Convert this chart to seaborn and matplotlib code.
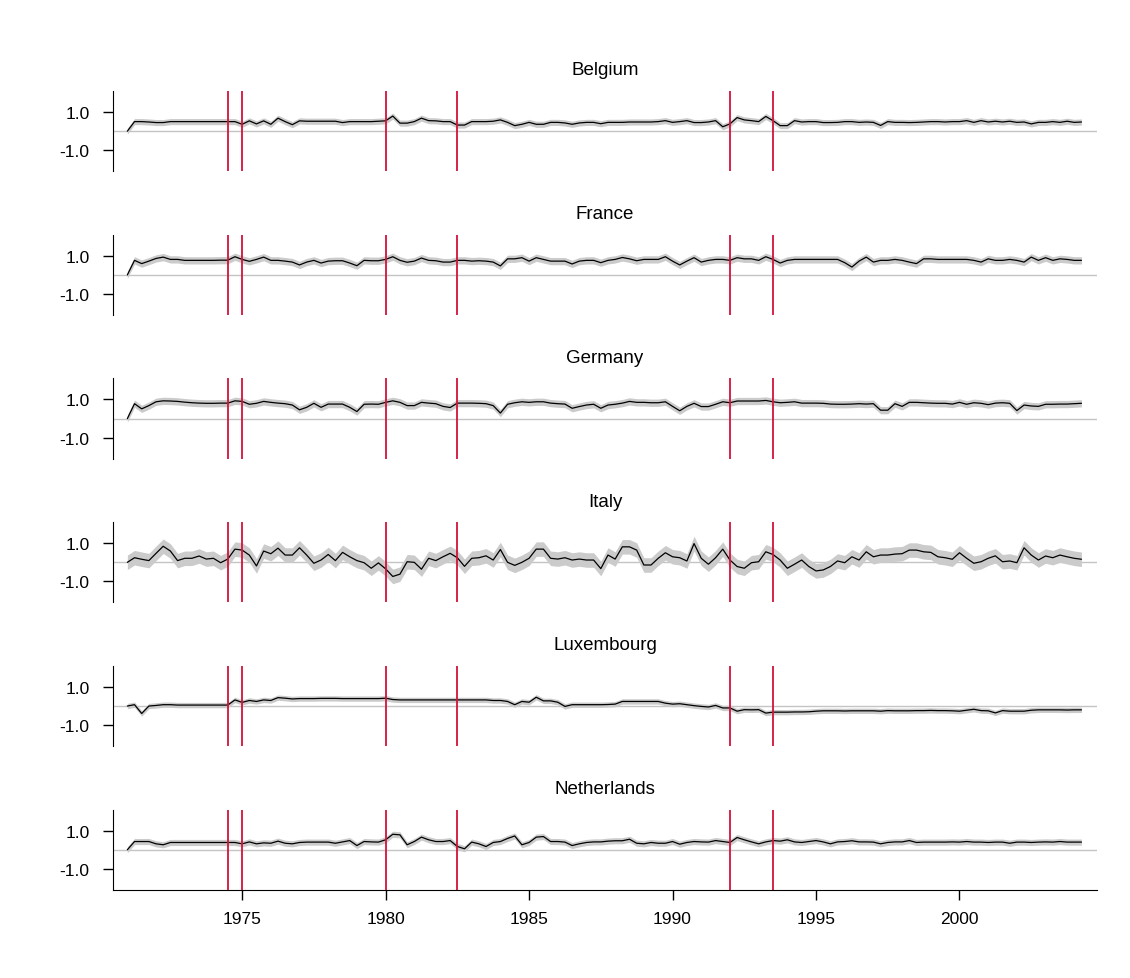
import numpy as np
import pandas as pd
import matplotlib
matplotlib.use("Agg")
import matplotlib.pyplot as plt
import seaborn as sns

# -------------------------
# DATA (quarterly, 1971Q1 - 2004Q2)
# -------------------------

countries = ["Belgium", "France", "Germany", "Italy", "Luxembourg", "Netherlands"]
start_year = 1971.0
breaks = [1974.5, 1975.0, 1980.0, 1982.5, 1992.0, 1993.5]

belgium = [
    0.0, 0.5, 0.5, 0.48, 0.45, 0.45, 0.5, 0.5, 0.5, 0.5, 0.5, 0.5, 0.5, 0.5, 0.5, 0.5,
    0.36, 0.54, 0.38, 0.54, 0.36, 0.68, 0.5, 0.34, 0.54, 0.52, 0.52, 0.52, 0.52, 0.52,
    0.45, 0.5, 0.5, 0.5, 0.5, 0.52, 0.54, 0.79, 0.42, 0.42, 0.5, 0.68, 0.55, 0.54, 0.5,
    0.5, 0.32, 0.32, 0.5, 0.5, 0.5, 0.52, 0.59, 0.46, 0.29, 0.36, 0.46, 0.36, 0.36, 0.46,
    0.46, 0.43, 0.36, 0.43, 0.46, 0.46, 0.39, 0.46, 0.46, 0.46, 0.48, 0.48, 0.48, 0.48,
    0.5, 0.55, 0.46, 0.5, 0.55, 0.45, 0.45, 0.48, 0.55, 0.23, 0.38, 0.71, 0.59, 0.55,
    0.5, 0.77, 0.55, 0.29, 0.29, 0.55, 0.48, 0.5, 0.5, 0.45, 0.45, 0.46, 0.5, 0.5, 0.46,
    0.48, 0.46, 0.3, 0.5, 0.46, 0.46, 0.45, 0.46, 0.48, 0.5, 0.5, 0.48, 0.5, 0.5, 0.55,
    0.46, 0.55, 0.48, 0.52, 0.48, 0.52, 0.46, 0.48, 0.38, 0.46, 0.46, 0.5, 0.46, 0.52,
    0.46, 0.48,
]
france = [
    0.0, 0.76, 0.59, 0.72, 0.86, 0.93, 0.81, 0.81, 0.76, 0.76, 0.76, 0.76, 0.76, 0.77,
    0.77, 0.95, 0.81, 0.71, 0.81, 0.93, 0.76, 0.76, 0.72, 0.67, 0.52, 0.67, 0.76, 0.62,
    0.72, 0.74, 0.74, 0.62, 0.48, 0.76, 0.74, 0.74, 0.81, 0.95, 0.76, 0.66, 0.72, 0.88,
    0.76, 0.74, 0.67, 0.67, 0.76, 0.76, 0.72, 0.74, 0.72, 0.67, 0.47, 0.84, 0.84, 0.9,
    0.72, 0.9, 0.81, 0.72, 0.72, 0.72, 0.57, 0.72, 0.76, 0.76, 0.64, 0.76, 0.81, 0.91,
    0.84, 0.74, 0.81, 0.81, 0.81, 0.95, 0.72, 0.52, 0.72, 0.9, 0.67, 0.76, 0.81, 0.81,
    0.76, 0.9, 0.84, 0.84, 0.76, 0.95, 0.81, 0.62, 0.76, 0.81, 0.81, 0.81, 0.81, 0.81,
    0.81, 0.81, 0.64, 0.41, 0.72, 0.93, 0.67, 0.76, 0.76, 0.81, 0.76, 0.67, 0.59, 0.84,
    0.84, 0.81, 0.81, 0.81, 0.81, 0.81, 0.76, 0.67, 0.84, 0.76, 0.76, 0.81, 0.76, 0.67,
    0.93, 0.76, 0.9, 0.76, 0.84, 0.81, 0.76, 0.76,
]
germany = [
    0.0, 0.78, 0.51, 0.68, 0.88, 0.93, 0.92, 0.9, 0.86, 0.83, 0.81, 0.8, 0.8, 0.81, 0.81,
    0.93, 0.9, 0.75, 0.8, 0.9, 0.85, 0.81, 0.78, 0.71, 0.46, 0.59, 0.8, 0.59, 0.76, 0.76,
    0.76, 0.59, 0.37, 0.75, 0.76, 0.75, 0.85, 0.93, 0.85, 0.68, 0.68, 0.85, 0.81, 0.78,
    0.64, 0.58, 0.81, 0.81, 0.81, 0.8, 0.78, 0.68, 0.29, 0.75, 0.83, 0.88, 0.85, 0.88,
    0.88, 0.81, 0.78, 0.76, 0.54, 0.63, 0.71, 0.75, 0.54, 0.71, 0.75, 0.81, 0.9, 0.85,
    0.85, 0.83, 0.83, 0.88, 0.64, 0.41, 0.64, 0.8, 0.63, 0.63, 0.75, 0.88, 0.83, 0.92,
    0.92, 0.92, 0.92, 0.95, 0.88, 0.83, 0.85, 0.88, 0.81, 0.81, 0.81, 0.8, 0.76, 0.75,
    0.75, 0.76, 0.78, 0.76, 0.78, 0.44, 0.44, 0.78, 0.64, 0.85, 0.85, 0.83, 0.81, 0.8,
    0.8, 0.76, 0.85, 0.75, 0.83, 0.8, 0.73, 0.81, 0.83, 0.8, 0.42, 0.71, 0.66, 0.64, 0.75,
    0.75, 0.76, 0.76, 0.78, 0.8,
]
italy = [
    0.0, 0.24, 0.16, 0.09, 0.47, 0.84, 0.59, 0.09, 0.21, 0.21, 0.33, 0.17, 0.21, -0.02,
    0.17, 0.69, 0.64, 0.38, -0.19, 0.59, 0.45, 0.74, 0.38, 0.38, 0.76, 0.38, -0.05, 0.12,
    0.41, 0.09, 0.52, 0.29, 0.09, -0.02, -0.31, -0.03, -0.34, -0.74, -0.62, 0.03, 0.0,
    -0.36, 0.21, 0.09, 0.29, 0.47, 0.24, -0.21, 0.21, 0.24, 0.34, 0.12, 0.67, 0.0, -0.16,
    0.0, 0.21, 0.69, 0.69, 0.21, 0.17, 0.24, 0.12, 0.17, 0.12, 0.12, -0.33, 0.38, 0.17,
    0.81, 0.81, 0.64, -0.14, -0.14, 0.21, 0.5, 0.29, 0.24, 0.07, 0.98, 0.21, -0.1, 0.24,
    0.69, 0.12, -0.22, -0.31, -0.02, 0.03, 0.55, 0.41, 0.12, -0.31, -0.1, 0.12, -0.22,
    -0.45, -0.4, -0.22, 0.07, -0.02, 0.29, 0.12, 0.55, 0.29, 0.38, 0.38, 0.43, 0.45, 0.64,
    0.64, 0.55, 0.52, 0.29, 0.24, 0.16, 0.5, 0.21, -0.05, 0.03, 0.21, 0.34, 0.03, 0.07,
    -0.02, 0.76, 0.38, 0.12, 0.33, 0.24, 0.38, 0.29, 0.21, 0.16,
]
luxembourg = [
    0.0, 0.07, -0.39, 0.0, 0.03, 0.07, 0.07, 0.05, 0.05, 0.05, 0.05, 0.05, 0.05, 0.05,
    0.05, 0.32, 0.19, 0.29, 0.24, 0.32, 0.29, 0.44, 0.41, 0.37, 0.39, 0.39, 0.39, 0.4,
    0.4, 0.4, 0.39, 0.39, 0.39, 0.39, 0.39, 0.39, 0.41, 0.34, 0.32, 0.32, 0.32, 0.32,
    0.32, 0.32, 0.32, 0.32, 0.32, 0.32, 0.32, 0.32, 0.32, 0.29, 0.29, 0.24, 0.07, 0.24,
    0.2, 0.46, 0.27, 0.27, 0.2, -0.02, 0.07, 0.07, 0.07, 0.07, 0.07, 0.08, 0.1, 0.24,
    0.24, 0.24, 0.24, 0.24, 0.24, 0.15, 0.1, 0.12, 0.07, 0.02, -0.02, -0.05, 0.03, -0.1,
    -0.1, -0.27, -0.19, -0.2, -0.19, -0.37, -0.32, -0.32, -0.32, -0.31, -0.31, -0.3,
    -0.27, -0.25, -0.25, -0.25, -0.26, -0.25, -0.25, -0.25, -0.25, -0.27, -0.24, -0.25,
    -0.25, -0.25, -0.24, -0.24, -0.23, -0.24, -0.24, -0.25, -0.27, -0.22, -0.17, -0.24,
    -0.25, -0.36, -0.24, -0.27, -0.27, -0.27, -0.22, -0.2, -0.2, -0.2, -0.2, -0.21,
    -0.2, -0.2,
]
netherlands = [
    0.0, 0.43, 0.43, 0.43, 0.31, 0.26, 0.38, 0.38, 0.38, 0.38, 0.38, 0.38, 0.38, 0.38,
    0.38, 0.38, 0.31, 0.41, 0.31, 0.36, 0.34, 0.45, 0.34, 0.31, 0.38, 0.4, 0.4, 0.4, 0.4,
    0.34, 0.41, 0.48, 0.22, 0.43, 0.41, 0.4, 0.52, 0.81, 0.78, 0.26, 0.43, 0.66, 0.52,
    0.43, 0.43, 0.48, 0.17, 0.05, 0.4, 0.31, 0.17, 0.38, 0.43, 0.59, 0.72, 0.26, 0.38,
    0.66, 0.69, 0.43, 0.43, 0.4, 0.22, 0.31, 0.38, 0.41, 0.41, 0.45, 0.47, 0.47, 0.55,
    0.34, 0.31, 0.38, 0.34, 0.34, 0.43, 0.29, 0.38, 0.43, 0.41, 0.4, 0.48, 0.43, 0.38,
    0.64, 0.52, 0.41, 0.31, 0.41, 0.48, 0.45, 0.52, 0.41, 0.38, 0.43, 0.48, 0.41, 0.31,
    0.41, 0.43, 0.47, 0.41, 0.41, 0.4, 0.31, 0.38, 0.41, 0.41, 0.48, 0.38, 0.4, 0.4, 0.4,
    0.4, 0.41, 0.4, 0.43, 0.4, 0.4, 0.38, 0.4, 0.4, 0.34, 0.4, 0.4, 0.38, 0.4, 0.41, 0.4,
    0.43, 0.4, 0.4, 0.4,
]

# half width of the grey band per country
band_half = [0.16, 0.19, 0.19, 0.38, 0.14, 0.16]

series = [belgium, france, germany, italy, luxembourg, netherlands]

# -------------------------
# LONG TABLE
# -------------------------

frames = []
for name, vals, hw in zip(countries, series, band_half):
    n = len(vals)
    year = start_year + np.arange(n) / 4.0
    v = np.array(vals)
    frames.append(pd.DataFrame({"country": name, "year": year, "value": v,
                                "lo": v - hw, "hi": v + hw}))
df = pd.concat(frames, ignore_index=True)

# -------------------------
# PLOT
# -------------------------

sns.set_style("ticks")
plt.rcParams["font.family"] = ["Liberation Sans", "DejaVu Sans"]
plt.rcParams["text.color"] = "black"
plt.rcParams["xtick.color"] = "black"
plt.rcParams["ytick.color"] = "black"
plt.rcParams["axes.edgecolor"] = "black"

fig, axes = plt.subplots(6, 1, figsize=(11.3, 9.79), dpi=100, sharex=True,
                         gridspec_kw=dict(hspace=0.79))
fig.subplots_adjust(left=0.1, right=0.971, top=0.906, bottom=0.090)

for ax, name in zip(axes, countries):
    d = df[df["country"] == name]
    ax.axhline(0, color="#c4c4c4", lw=1, zorder=1)
    ax.fill_between(d["year"], d["lo"], d["hi"], color="#cbcbcb", lw=0, zorder=2)
    sns.lineplot(data=d, x="year", y="value", ax=ax, color="black", lw=0.9,
                 errorbar=None, zorder=3)
    for b in breaks:
        ax.axvline(b, color="#d3123c", lw=1.3, zorder=4)
    ax.set_title(name, fontsize=13.5, pad=12, color="black")
    ax.set_xlim(1970.5, 2004.8)
    ax.set_ylim(-2.1, 2.1)
    ax.set_yticks([1.0, -1.0])
    ax.set_yticklabels(["1.0", "-1.0"], fontsize=12.5)
    ax.set_xlabel("")
    ax.set_ylabel("")
    ax.tick_params(axis="y", length=7, width=1, pad=10)
    sns.despine(ax=ax, bottom=True)
    ax.tick_params(axis="x", bottom=False, labelbottom=False)

last = axes[-1]
last.spines["bottom"].set_visible(True)
last.set_xticks([1975, 1980, 1985, 1990, 1995, 2000])
last.tick_params(axis="x", bottom=True, labelbottom=True, length=7, width=1,
                 labelsize=12.5, pad=8)

plt.savefig("out.png", dpi=100)
plt.close()
